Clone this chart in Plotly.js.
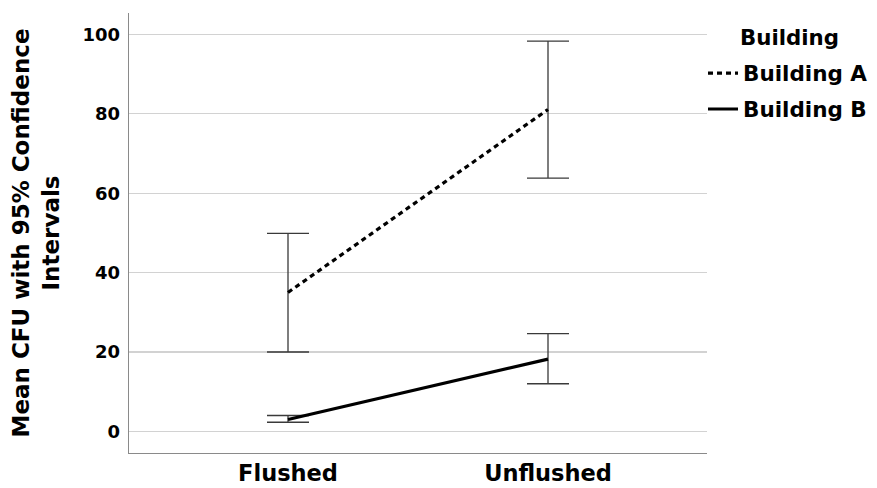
<!DOCTYPE html>
<html>
<head>
<meta charset="utf-8">
<script src="https://cdn.plot.ly/plotly-3.0.1.min.js"></script>
<style>html,body{margin:0;padding:0;background:#fff;}#chart{width:877px;height:488px;}</style>
</head>
<body>
<div id="chart"></div>
<script>
const categories = ['Flushed', 'Unflushed'];
const seriesNames = ['Building A', 'Building B'];
const meanA = [35.0, 81.1];
const lowerA = [20.0, 63.8];
const upperA = [49.9, 98.3];
const meanB = [3.0, 18.2];
const lowerB = [2.3, 12.0];
const upperB = [4.0, 24.6];
const yTicks = [0, 20, 40, 60, 80, 100];

const FONT = 'DejaVu Sans, Arial, sans-serif';

function mkTrace(name, mean, lo, hi, dash, group) {
  return {
    type: 'scatter', mode: 'lines', name: name, x: categories, y: mean,
    legendgroup: group,
    line: {color: '#000', width: 3.2, dash: dash},
    error_y: {
      type: 'data', symmetric: false,
      array: hi.map((v, i) => v - mean[i]),
      arrayminus: mean.map((v, i) => v - lo[i]),
      color: '#3a3a3a', thickness: 1.3, width: 21
    },
    hoverinfo: 'skip'
  };
}

const data = [
  mkTrace(seriesNames[0], meanA, lowerA, upperA, '5px,4px', 'a'),
  mkTrace(seriesNames[1], meanB, lowerB, upperB, 'solid', 'b')
];

const layout = {
  width: 877, height: 488,
  margin: {l: 129, r: 170, t: 13, b: 35, autoexpand: false},
  paper_bgcolor: '#fff', plot_bgcolor: '#fff',
  font: {family: FONT, color: '#000'},
  showlegend: true,
  legend: {
    x: 1.0 - 4 / 578, xanchor: 'left', y: 0.91, yanchor: 'top',
    font: {family: FONT, size: 21.5, color: '#000', weight: 'bold'},
    traceorder: 'grouped', tracegroupgap: 5,
    itemwidth: 30, bgcolor: 'rgba(0,0,0,0)', borderwidth: 0
  },
  xaxis: {
    type: 'category', range: [-0.6115, 1.6115],
    showline: true, linecolor: '#8a8a8a', linewidth: 1.3,
    showgrid: false, zeroline: false, ticks: '',
    tickfont: {family: FONT, size: 22.5, color: '#000', weight: 'bold'},
    ticklabelstandoff: 0
  },
  yaxis: {
    range: [-5.45, 105.4],
    tickvals: yTicks, ticktext: yTicks.map(String),
    showline: true, linecolor: '#8a8a8a', linewidth: 1.3,
    showgrid: true, gridcolor: '#d2d2d2', gridwidth: 1.2,
    zeroline: false, ticks: '',
    tickfont: {family: FONT, size: 18, color: '#000', weight: 'bold'},
    ticklabelstandoff: 4,
    title: {
      text: 'Mean CFU with 95% Confidence<br>Intervals',
      font: {family: FONT, size: 23, color: '#000', weight: 'bold'},
      standoff: 16
    }
  },
  annotations: [{
    xref: 'paper', yref: 'paper', x: 1.0 + (738 - 707) / 578, y: (453 - 37) / 440,
    xanchor: 'left', yanchor: 'middle', showarrow: false,
    text: '<b>Building</b>', font: {family: FONT, size: 21.3, color: '#000'}
  }]
};

Plotly.newPlot('chart', data, layout, {displayModeBar: false, staticPlot: true});
</script>
</body>
</html>
